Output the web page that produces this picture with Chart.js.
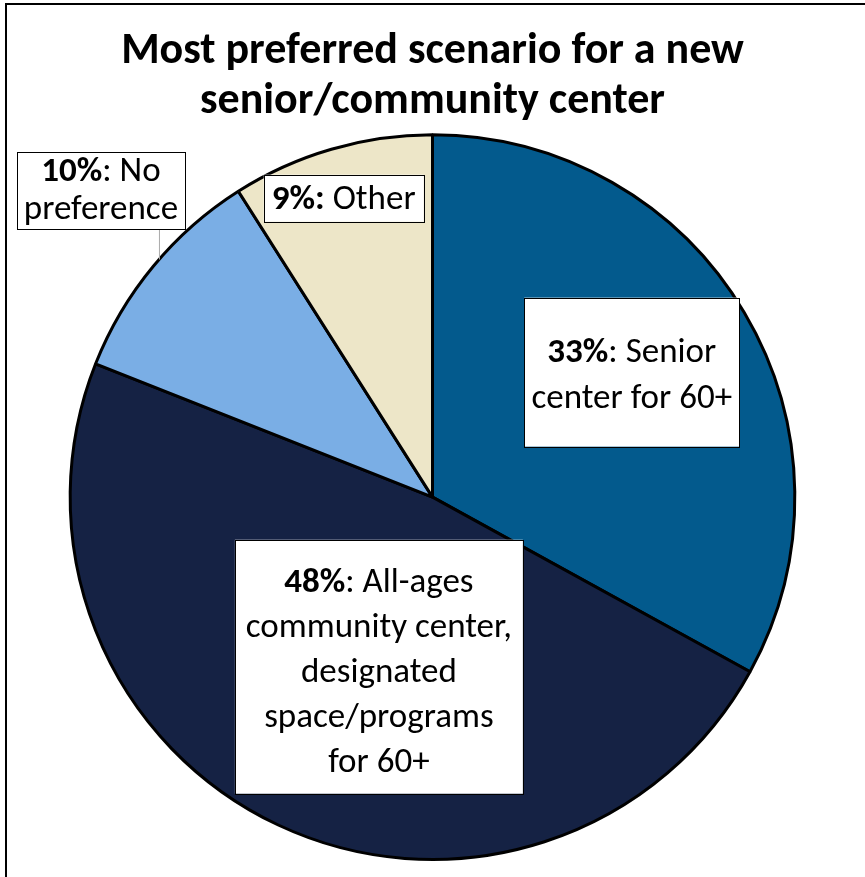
<!DOCTYPE html>
<html>
<head>
<meta charset="utf-8">
<script src="https://cdn.jsdelivr.net/npm/chart.js@4.4.1/dist/chart.umd.min.js"></script>
<style>
  body { margin: 0; background: #fff; }
  #wrap { width: 865px; height: 877px; position: relative; }
</style>
</head>
<body>
<div id="wrap"><canvas id="pieChart" width="865" height="877"></canvas></div>
<script>
var categories = ['Senior center for 60+', 'All-ages community center, designated space/programs for 60+', 'No preference', 'Other'];
var percents = [33, 48, 10, 9];
var sliceColors = ['#035A8D', '#152244', '#7AAEE5', '#EDE6C8'];
// label text: bold part, then normal lines
var labelBold = ['33%', '48%', '10%', '9%:'];
var labelLines = [
	[': Senior', 'center for 60+'],
	[': All-ages', 'community center,', 'designated', 'space/programs', 'for 60+'],
	[': No', 'preference'],
	[' Other']
];
// label box centre as offset from pie centre, in units of radius
var labelPos = [[0.55, -0.345], [-0.148, 0.468], [-0.915, -0.845], [-0.245, -0.825]];
var labelSize = [[215, 149], [288, 254], [168, 77], [160, 47]];
var labelLineH = [46, 45, 38, 45];
var labelShift = [4, 7, 0, 2];

var FONT = 'Carlito, Calibri, "Open Sans", sans-serif';

var labelPlugin = {
	id: 'labelBoxes',
	beforeDraw: function (chart) {
		var ctx = chart.ctx;
		ctx.save();
		ctx.strokeStyle = '#000';
		ctx.lineWidth = 2;
		ctx.beginPath();
		ctx.moveTo(6, 900);
		ctx.lineTo(6, 4);
		ctx.lineTo(900, 4);
		ctx.stroke();
		ctx.restore();
	},
	afterDatasetsDraw: function (chart) {
		var ctx = chart.ctx;
		var arc = chart.getDatasetMeta(0).data[0];
		var cx = arc.x, cy = arc.y, r = arc.outerRadius;
		ctx.save();
		for (var i = 0; i < percents.length; i++) {
			var bx = cx + labelPos[i][0] * r;
			var by = cy + labelPos[i][1] * r;
			var w = labelSize[i][0], h = labelSize[i][1];
			if (i === 2) {
				ctx.strokeStyle = '#aaa';
				ctx.lineWidth = 1;
				ctx.beginPath();
				ctx.moveTo(bx + 58.5, by + h / 2);
				ctx.lineTo(bx + 58.5, by + h / 2 + 30);
				ctx.stroke();
			}
			ctx.fillStyle = '#fff';
			ctx.fillRect(bx - w / 2, by - h / 2, w, h);
			ctx.strokeStyle = '#000';
			ctx.lineWidth = 1;
			ctx.strokeRect(Math.round(bx - w / 2) + 0.5, Math.round(by - h / 2) + 0.5, w, h);

			var lines = labelLines[i];
			var lh = labelLineH[i];
			var y0 = by + labelShift[i] - (lines.length - 1) * lh / 2;
			ctx.fillStyle = '#000';
			ctx.textBaseline = 'middle';
			ctx.textAlign = 'left';
			for (var j = 0; j < lines.length; j++) {
				var y = y0 + j * lh;
				if (j === 0) {
					ctx.font = 'bold 35px ' + FONT;
					var bw = ctx.measureText(labelBold[i]).width;
					ctx.font = '35px ' + FONT;
					var nw = ctx.measureText(lines[j]).width;
					var sx = bx - (bw + nw) / 2;
					ctx.font = 'bold 35px ' + FONT;
					ctx.fillText(labelBold[i], sx, y);
					ctx.font = '35px ' + FONT;
					ctx.fillText(lines[j], sx + bw, y);
				} else {
					ctx.font = '35px ' + FONT;
					ctx.textAlign = 'center';
					ctx.fillText(lines[j], bx, y);
					ctx.textAlign = 'left';
				}
			}
		}
		ctx.restore();
	}
};

new Chart(document.getElementById('pieChart'), {
	type: 'pie',
	data: {
		labels: categories,
		datasets: [
			{
				data: percents,
				backgroundColor: sliceColors,
				borderColor: '#000',
				borderWidth: 3
			}
		]
	},
	options: {
		responsive: false,
		animation: false,
		layout: {
			padding: { left: 68, right: 68, bottom: 16, top: 0 }
		},
		plugins: {
			legend: { display: false },
			tooltip: { enabled: false },
			title: {
				display: true,
				text: ['Most preferred scenario for a new', 'senior/community center'],
				color: '#000',
				font: { family: FONT, size: 44, weight: 'bold', lineHeight: 1.14 },
				padding: { top: 27, bottom: 6 }
			}
		}
	},
	plugins: [labelPlugin]
});
</script>
</body>
</html>
